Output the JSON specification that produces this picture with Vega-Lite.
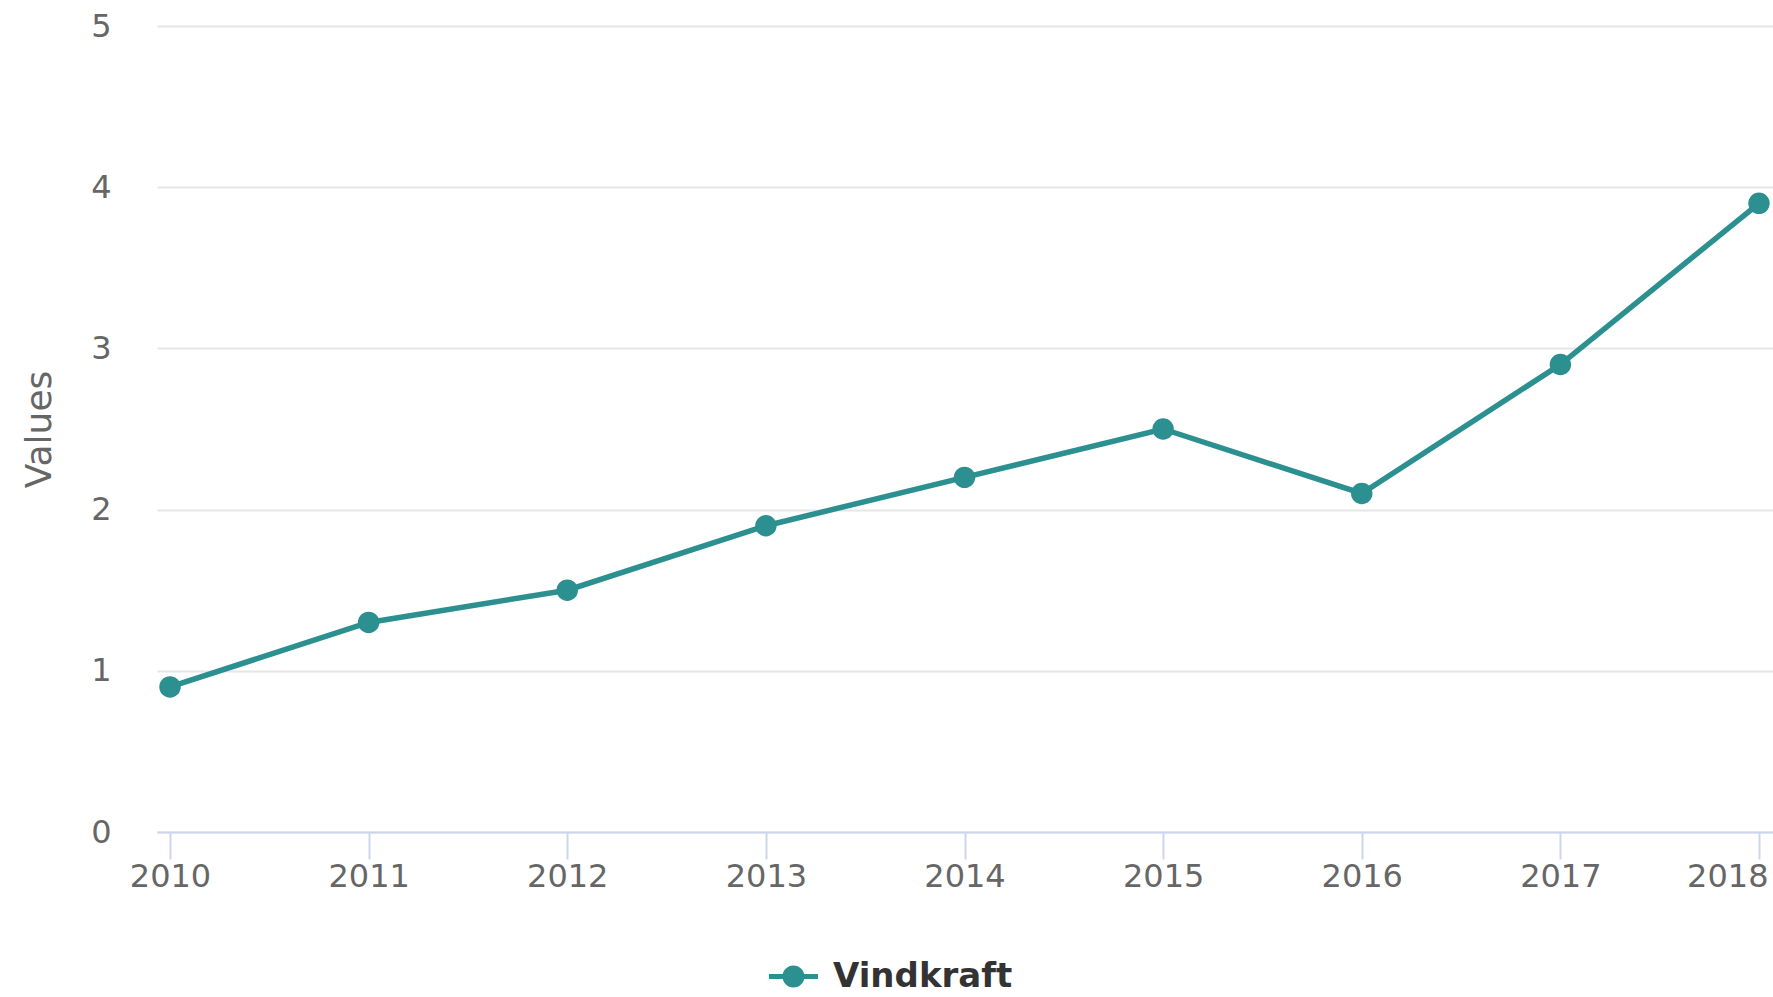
{
  "$schema": "https://vega.github.io/schema/vega-lite/v6.json",
  "width": 1616,
  "height": 806,
  "autosize": {"type": "none"},
  "padding": {"left": 157, "top": 26, "right": 0, "bottom": 165},
  "background": "white",
  "config": {"view": {"stroke": null}, "font": "DejaVu Sans"},
  "data": {
    "values": [
      {"year": 2010, "value": 0.9, "series": "Vindkraft"},
      {"year": 2011, "value": 1.3, "series": "Vindkraft"},
      {"year": 2012, "value": 1.5, "series": "Vindkraft"},
      {"year": 2013, "value": 1.9, "series": "Vindkraft"},
      {"year": 2014, "value": 2.2, "series": "Vindkraft"},
      {"year": 2015, "value": 2.5, "series": "Vindkraft"},
      {"year": 2016, "value": 2.1, "series": "Vindkraft"},
      {"year": 2017, "value": 2.9, "series": "Vindkraft"},
      {"year": 2018, "value": 3.9, "series": "Vindkraft"}
    ]
  },
  "encoding": {
    "x": {
      "field": "year",
      "type": "quantitative",
      "scale": {"domain": [2009.9345, 2018.0705], "nice": false, "zero": false},
      "axis": {
        "values": [2010, 2011, 2012, 2013, 2014, 2015, 2016, 2017, 2018],
        "format": "d",
        "title": null,
        "grid": false,
        "domainColor": "#ccd6eb",
        "domainWidth": 2,
        "tickColor": "#ccd6eb",
        "tickWidth": 2,
        "tickSize": 27,
        "labelFontSize": 32,
        "labelColor": "#666666",
        "labelPadding": 2,
        "labelFlush": false,
        "labelOverlap": false,
        "labelAlign": {"condition": {"test": "datum.value == 2018", "value": "right"}, "value": "center"},
        "labelOffset": {"condition": {"test": "datum.value == 2018", "value": 9}, "value": 0},
        "zindex": 1
      }
    },
    "y": {
      "field": "value",
      "type": "quantitative",
      "scale": {"domain": [0, 5], "nice": false},
      "axis": {
        "values": [0, 1, 2, 3, 4, 5],
        "title": "Values",
        "titleFontSize": 36,
        "titleFontWeight": "normal",
        "titleColor": "#666666",
        "titlePadding": 32,
        "domain": false,
        "ticks": false,
        "gridColor": "#e6e6e6",
        "gridWidth": 2,
        "labelFontSize": 32,
        "labelColor": "#666666",
        "labelPadding": 46
      }
    }
  },
  "layer": [
    {"mark": {"type": "line", "strokeWidth": 5.5, "color": "#2b908f"}},
    {
      "mark": {"type": "point", "filled": true, "size": 460, "opacity": 1},
      "encoding": {
        "color": {
          "field": "series",
          "type": "nominal",
          "scale": {"range": ["#2b908f"]},
          "legend": {
            "orient": "none",
            "legendX": 612,
            "legendY": 926,
            "title": null,
            "symbolType": "M-1,-0.1H1V0.1H-1Z M0.45,0A0.45,0.45,0,1,1,-0.45,0A0.45,0.45,0,1,1,0.45,0Z",
            "symbolSize": 2401,
            "symbolStrokeWidth": 0,
            "symbolOpacity": 1,
            "labelFontSize": 34,
            "labelFontWeight": "bold",
            "labelColor": "#333333",
            "labelOffset": 15,
            "labelLimit": 600
          }
        }
      }
    }
  ]
}
